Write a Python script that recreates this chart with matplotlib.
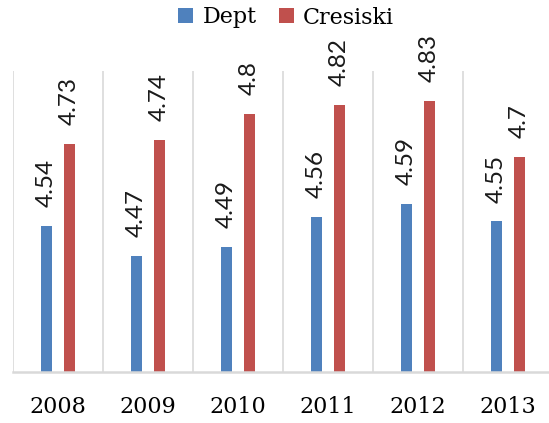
import numpy as np
import matplotlib
matplotlib.use('Agg')
import matplotlib.pyplot as plt
from matplotlib.patches import Patch

# 数据
years = ['2008', '2009', '2010', '2011', '2012', '2013']
dept = [4.54, 4.47, 4.49, 4.56, 4.59, 4.55]
cresiski = [4.73, 4.74, 4.8, 4.82, 4.83, 4.7]
series_names = ['Dept', 'Cresiski']

blue = '#4F81BD'
red = '#C0504D'
grid_color = '#D9D9D9'

fig = plt.figure(figsize=(5.49, 4.23), dpi=100)
ax = fig.add_axes([13 / 549, 51 / 423, 540 / 549, 301.3 / 423])

x = np.arange(len(years))
width = 0.13
offset = 0.128

bars_d = ax.bar(x - offset, dept, width, color=blue, zorder=2)
bars_c = ax.bar(x + offset, cresiski, width, color=red, zorder=2)

ax.set_ylim(4.2, 4.9)
ax.set_xlim(-0.5, len(years) - 0.5)

# 数值标签（竖排）
for bars, vals in [(bars_d, dept), (bars_c, cresiski)]:
    for b, v in zip(bars, vals):
        ax.annotate(f'{v:g}', (b.get_x() + b.get_width() / 2, v),
                    xytext=(0, 13.5), textcoords='offset points',
                    rotation=90, ha='center', va='bottom',
                    fontsize=17.5, family='Lato', color='#1a1a1a')

# 分类之间的竖线
ax.set_xticks(np.arange(-0.5, len(years)), minor=True)
ax.grid(True, which='minor', axis='x', color=grid_color, linewidth=1.2, zorder=0)
ax.set_xticks(x)
ax.set_xticklabels(years, fontsize=16, family='DejaVu Serif')
ax.tick_params(axis='x', which='both', length=0, pad=17)
ax.set_yticks([])

for s in ['top', 'right', 'left']:
    ax.spines[s].set_visible(False)
ax.spines['bottom'].set_color(grid_color)
ax.spines['bottom'].set_linewidth(1.8)

handles = [Patch(facecolor=blue), Patch(facecolor=red)]
fig.legend(handles, series_names, loc='center', bbox_to_anchor=(286 / 549, 1 - 17.5 / 423),
           ncol=2, frameon=False, prop={'family': 'DejaVu Serif', 'size': 16},
           handlelength=0.7, handleheight=0.7, handletextpad=0.4, columnspacing=1.0)

fig.savefig('out.png', dpi=100, facecolor='white')
